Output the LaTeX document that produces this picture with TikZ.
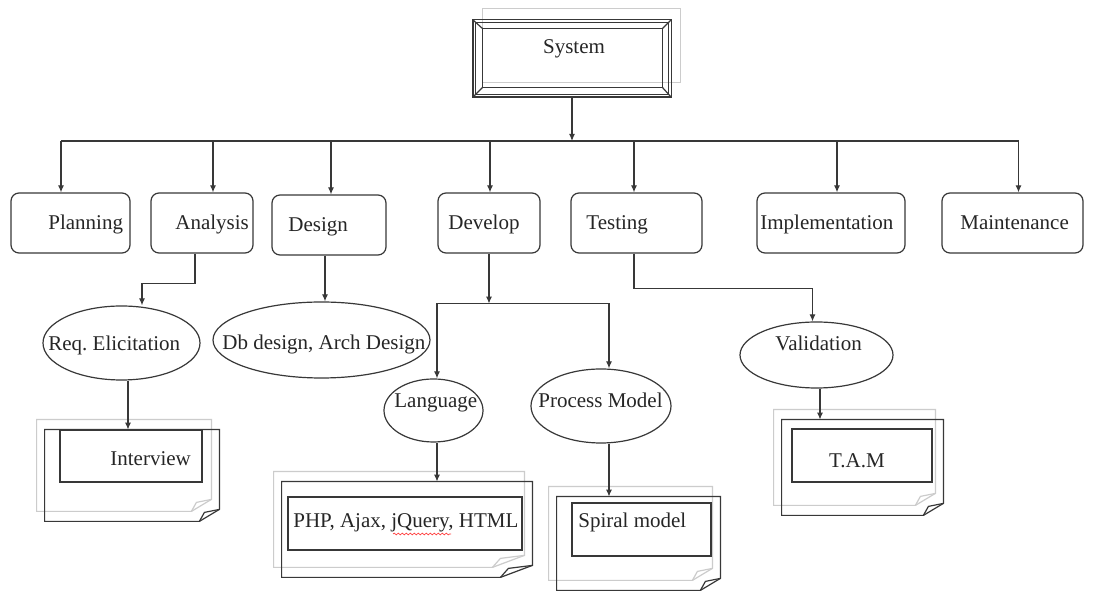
\documentclass[tikz,border=0pt]{standalone}
\usepackage{fontspec}
\setmainfont{Liberation Serif}
\usetikzlibrary{arrows.meta,shapes.geometric,decorations.pathmorphing}
\frenchspacing

% A sheet of paper with a folded bottom-right corner and a faint sheet behind it.
% #1 = name of the (invisible) node that gives the sheet's extent, #2 = width of the fold
\newcommand\paperdoc[2]{%
  \draw[ghost] ([shift={(-4pt,5pt)}]#1.north west) -- ([shift={(-4pt,5pt)}]#1.north east)
     -- ([shift={(-4pt,11pt)}]#1.south east) -- ([shift={(-4pt-#2,5pt)}]#1.south east)
     -- ([shift={(-4pt,5pt)}]#1.south west) -- cycle;
  \draw[ghost] ([shift={(-4pt-#2,5pt)}]#1.south east) -- ([shift={(-4pt-0.75*#2,9.5pt)}]#1.south east)
     -- ([shift={(-4pt,11pt)}]#1.south east);
  \draw[ink] (#1.north west) -- (#1.north east) -- ([yshift=6pt]#1.south east)
     -- ([xshift=-#2]#1.south east) -- (#1.south west) -- cycle;
  \draw[ink] ([xshift=-#2]#1.south east) -- ([shift={(-0.75*#2,4.5pt)}]#1.south east)
     -- ([yshift=6pt]#1.south east);
}

\begin{document}
\begin{tikzpicture}[x=0.5pt,y=-0.5pt,
  ink/.style={draw=black!78, line width=0.6pt},
  arr/.style={ink, -{Latex[length=3.5pt,width=3pt]}},
  phase/.style={ink, rounded corners=4pt, minimum height=30pt, inner sep=0pt},
  lbl/.style={inner sep=0pt, text=black!85, font=\fontsize{10.5pt}{12pt}\selectfont\frenchspacing},
  oval/.style={ellipse, ink, inner sep=0pt},
  ghost/.style={draw=black!20, line width=0.6pt},
  slip/.style={ink, inner sep=0pt},
  hold/.style={inner sep=0pt}]

\fill[white] (0,0) rectangle (1094,592);
\useasboundingbox (0,0) rectangle (1094,592);

% ---------- root: bevelled frame ----------
\node[hold, minimum width=99pt, minimum height=38.5pt] (sys) at (572,58.5) {};
\node[hold, minimum width=89.5pt, minimum height=29pt] (sysin) at (572.5,58) {};
\draw[ghost] ([shift={(5pt,5.5pt)}]sys.north west) rectangle ([shift={(4.5pt,7.5pt)}]sys.south east);
\draw[ink, line width=0.9pt] (sys.north west) rectangle (sys.south east);
\draw[ink, line width=0.4pt] ([shift={(1.5pt,-1.5pt)}]sys.north west) rectangle ([shift={(-1.5pt,1.5pt)}]sys.south east);
\draw[ink] (sysin.north west) rectangle (sysin.south east);
\foreach \c in {north west,north east,south west,south east}
  \draw[ink] (sys.\c) -- (sysin.\c);
\node[lbl, anchor=base] (sysT) at (574,54) {System};

% ---------- phases ----------
\node[phase, minimum width=59.5pt] (plan)  at (70.5,223) {};
\node[phase, minimum width=51pt]   (ana)   at (202,223) {};
\node[phase, minimum width=57pt]   (des)   at (329,225) {};
\node[phase, minimum width=51pt]   (dev)   at (489,223) {};
\node[phase, minimum width=65.5pt] (test)  at (636.5,223) {};
\node[phase, minimum width=74pt]   (impl)  at (831,223) {};
\node[phase, minimum width=70.5pt] (maint) at (1012.5,223) {};

\node[lbl, anchor=base west] (planT)  at (48,230)  {Planning};
\node[lbl, anchor=base west] (anaT)   at (175,230) {Analysis};
\node[lbl, anchor=base west] (desT)   at (288,232) {Design};
\node[lbl, anchor=base west] (devT)   at (448,230) {Develop};
\node[lbl, anchor=base west] (testT)  at (586,230) {Testing};
\node[lbl, anchor=base west] (implT)  at (760,230) {Implementation};
\node[lbl, anchor=base west] (maintT) at (960,230) {Maintenance};

% bus from the root to every phase
\coordinate (bus) at (572,141);
\coordinate (dPlan)  at ([xshift=-4.75pt]plan.north);
\coordinate (dAna)   at ([xshift=5.5pt]ana.north);
\coordinate (dDes)   at ([xshift=1pt]des.north);
\coordinate (dDev)   at ([xshift=0.5pt]dev.north);
\coordinate (dTest)  at ([xshift=-1.25pt]test.north);
\coordinate (dImpl)  at ([xshift=3pt]impl.north);
\coordinate (dMaint) at ([xshift=3pt]maint.north);
\draw[arr] (sys.south) -- (sys.south |- bus);
\draw[ink] (dPlan |- bus) -- (dMaint |- bus);
\foreach \d in {dPlan,dAna,dDes,dDev,dTest,dImpl,dMaint}
  \draw[arr] (\d |- bus) -- (\d);

% ---------- second level ----------
\node[oval, minimum width=78.5pt, minimum height=37pt] (req)  at (121.5,343) {};
\node[oval, minimum width=108.5pt, minimum height=38pt] (db)  at (321.5,340) {};
\node[oval, minimum width=49.5pt, minimum height=31.5pt] (lang) at (433.5,410.5) {};
\node[oval, minimum width=70pt, minimum height=37pt] (proc)  at (601,406) {};
\node[oval, minimum width=76.5pt, minimum height=33pt] (val)  at (816.5,355) {};

\node[lbl, anchor=base west] (reqT)  at (48,351)  {Req. Elicitation};
\node[lbl, anchor=base west] (dbT)   at (222,350) {Db design, Arch Design};
\node[lbl, anchor=base west] (langT) at (394,408) {Language};
\node[lbl, anchor=base west] (procT) at (538,408) {Process Model};
\node[lbl, anchor=base west] (valT)  at (775,351) {Validation};

% Analysis -> Req. Elicitation
\coordinate (aOut) at ([xshift=-3.5pt]ana.south);
\coordinate (rIn)  at ([xshift=10.25pt]req.north);
\draw[arr] (aOut) -- ++(0,30) -| (rIn);
% Design -> Db design
\coordinate (eOut) at ([xshift=-2pt]des.south);
\draw[arr] (eOut) -- (eOut |- db.north);
% Develop -> Language / Process Model
\coordinate (fork) at ([yshift=-25pt]dev.south);
\coordinate (lIn) at ([xshift=1.75pt]lang.north);
\coordinate (pIn) at ([xshift=4pt]proc.north);
\draw[arr] (dev.south) -- (fork);
\draw[arr] (fork) -| (lIn);
\draw[arr] (fork) -| (pIn);
% Testing -> Validation
\coordinate (tOut) at ([xshift=-1.25pt]test.south);
\coordinate (vIn)  at ([xshift=-2pt]val.north);
\draw[arr] (tOut) -- ++(0,35) -| (vIn);

% ---------- documents ----------
\node[hold, minimum width=87pt,   minimum height=45.5pt] (intv)   at (132,475.5) {};
\node[hold, minimum width=125pt,  minimum height=47.5pt] (php)    at (407,529.5) {};
\node[hold, minimum width=81.5pt, minimum height=46.5pt] (spiral) at (638.5,543.5) {};
\node[hold, minimum width=80.5pt, minimum height=47.5pt] (tam)    at (862.5,467.5) {};
\paperdoc{intv}{10pt}
\paperdoc{php}{16pt}
\paperdoc{spiral}{10pt}
\paperdoc{tam}{10pt}

\node[slip, minimum width=71pt,   minimum height=26pt]   (intvIn)   at (131,456) {};
\node[slip, minimum width=117pt,  minimum height=26.5pt] (phpIn)    at (405,523.5) {};
\node[slip, minimum width=69.5pt, minimum height=26.5pt] (spiralIn) at (641.5,529.5) {};
\node[slip, minimum width=70pt,   minimum height=26.5pt] (tamIn)    at (862,455.5) {};

\node[lbl, anchor=base west] (intvT)   at (110,466) {Interview};
\node[lbl, anchor=base west] (phpT)    at (293,528) {PHP, Ajax, jQuery, HTML};
\node[lbl, anchor=base west] (spiralT) at (578,528) {Spiral model};
\node[lbl, anchor=base]      (tamT)    at (857,468) {T.A.M};
% spell-check mark under the library name
\draw[red!75, line width=0.35pt, decorate, decoration={snake, amplitude=0.45pt, segment length=2pt}]
  ([shift={(50pt,-3pt)}]phpT.base west) -- ([shift={(79pt,-3pt)}]phpT.base west);

% second level -> documents
\coordinate (qOut) at ([xshift=3.25pt]req.south);
\draw[arr] (qOut) -- (qOut |- intv.north);
\draw[arr] (lIn |- lang.south) -- (lIn |- php.north);
\draw[arr] (pIn |- proc.south) -- (pIn |- spiral.north);
\coordinate (wOut) at ([xshift=1.75pt]val.south);
\draw[arr] (wOut) -- (wOut |- tam.north);

\end{tikzpicture}
\end{document}
